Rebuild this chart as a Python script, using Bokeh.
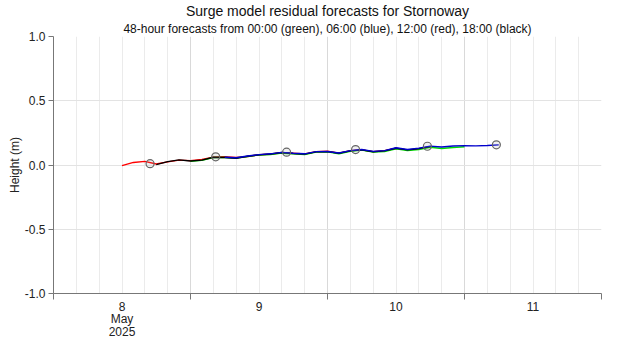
from datetime import datetime, timedelta
from bokeh.plotting import figure
from bokeh.models import FixedTicker, Title, Range1d, NumeralTickFormatter
from bokeh.embed import file_html
from bokeh.resources import INLINE

FONT = "Liberation Sans"
EPOCH = datetime(1970, 1, 1)
DAY0 = datetime(2025, 5, 8)


def ms(dt):
    return (dt - EPOCH).total_seconds() * 1000.0


# ---- data (2-hourly forecast values, metres) ----
red_start = datetime(2025, 5, 8, 12)     # 12:00 forecast
red_vals = [-0.005, 0.020, 0.028, 0.008, 0.024, 0.038, 0.034, 0.043, 0.060, 0.064,
            0.058, 0.066, 0.080, 0.084, 0.095, 0.092, 0.086, 0.104, 0.108, 0.092,
            0.112, 0.118, 0.104, 0.112, 0.130]

black_start = datetime(2025, 5, 8, 18)   # 18:00 forecast
black_vals = [0.003, 0.026, 0.040, 0.031, 0.038, 0.060, 0.058, 0.052, 0.068, 0.079,
              0.086, 0.097, 0.090, 0.085, 0.102, 0.104, 0.091, 0.110, 0.118, 0.103,
              0.110, 0.130, 0.118, 0.127, 0.143]

green_start = datetime(2025, 5, 9, 0)    # 00:00 forecast
green_vals = [0.028, 0.036, 0.058, 0.058, 0.054, 0.066, 0.078, 0.082, 0.092, 0.088,
              0.082, 0.100, 0.102, 0.088, 0.106, 0.116, 0.100, 0.104, 0.126, 0.112,
              0.120, 0.138, 0.128, 0.136, 0.142]

blue_start = datetime(2025, 5, 9, 6)     # 06:00 forecast
blue_vals = [0.060, 0.056, 0.070, 0.081, 0.087, 0.098, 0.091, 0.087, 0.104, 0.105,
             0.093, 0.112, 0.121, 0.106, 0.112, 0.134, 0.121, 0.131, 0.147, 0.140,
             0.148, 0.151, 0.149, 0.152, 0.157]

hw_times = [datetime(2025, 5, 8, 16, 55), datetime(2025, 5, 9, 4, 25),
            datetime(2025, 5, 9, 16, 50), datetime(2025, 5, 10, 4, 55),
            datetime(2025, 5, 10, 17, 30), datetime(2025, 5, 11, 5, 35)]
hw_vals = [0.010, 0.064, 0.100, 0.120, 0.146, 0.157]

day_labels = ["8\nMay\n2025", "9", "10", "11"]
y_ticks = [-1.0, -0.5, 0.0, 0.5, 1.0]


def series_times(start, n):
    return [start + timedelta(hours=2 * i) for i in range(n)]


p = figure(width=620, height=350, x_axis_type="datetime",
           output_backend="svg", toolbar_location=None,
           title="Surge model residual forecasts for Stornoway",
           min_border_left=53, min_border_right=19, min_border_bottom=57,
           min_border_top=36)
p.x_range = Range1d(ms(DAY0), ms(DAY0 + timedelta(days=4)))
p.y_range = Range1d(-1.0, 1.0)
p.outline_line_color = None

p.title.align = "center"
p.title.text_font = FONT
p.title.text_font_size = "14px"
p.title.text_font_style = "normal"
p.title.text_color = "#111111"
p.title.text_line_height = 1.0
p.title.standoff = 0
p.title.offset = 0
sub = Title(text="48-hour forecasts from 00:00 (green), 06:00 (blue), 12:00 (red), 18:00 (black)",
            align="center", text_font=FONT, text_font_size="12px",
            text_font_style="normal", text_color="#111111", standoff=2,
            text_line_height=1.0)
p.add_layout(sub, "above")

midnights = [ms(DAY0 + timedelta(days=d)) for d in range(5)]
noons = [ms(DAY0 + timedelta(days=d, hours=12)) for d in range(4)]
four_hourly = [ms(DAY0 + timedelta(hours=h)) for h in range(0, 97, 4) if h % 24 != 0]

# grid
p.xgrid.ticker = FixedTicker(ticks=four_hourly, minor_ticks=midnights)
p.xgrid.grid_line_color = "#ebebeb"
p.xgrid.minor_grid_line_color = "#d9d9d9"
p.ygrid.ticker = FixedTicker(ticks=y_ticks)
p.ygrid.grid_line_color = "#e3e3e3"

# x axis
xa = p.xaxis[0]
xa.ticker = FixedTicker(ticks=noons, minor_ticks=midnights)
xa.major_label_overrides = {t: lab for t, lab in zip(noons, day_labels)}
xa.major_tick_out = 0
xa.major_tick_in = 0
xa.minor_tick_out = 6
xa.minor_tick_in = 0
xa.minor_tick_line_color = "#777777"
xa.axis_line_color = "#777777"
xa.major_label_text_font = FONT
xa.major_label_text_font_size = "12px"
xa.major_label_text_color = "#222222"
xa.major_label_text_line_height = 0.9
xa.major_label_standoff = 0

# y axis
ya = p.yaxis[0]
ya.ticker = FixedTicker(ticks=y_ticks)
ya.formatter = NumeralTickFormatter(format="0.0")
ya.major_tick_out = 5
ya.major_tick_in = 0
ya.minor_tick_out = 0
ya.minor_tick_in = 0
ya.axis_line_color = "#777777"
ya.major_tick_line_color = "#777777"
ya.major_label_text_font = FONT
ya.major_label_text_font_size = "12px"
ya.major_label_text_color = "#222222"
ya.major_label_standoff = 3
ya.axis_label = "Height (m)"
ya.axis_label_text_font = FONT
ya.axis_label_text_font_size = "12px"
ya.axis_label_text_font_style = "normal"
ya.axis_label_text_color = "#222222"
ya.axis_label_standoff = 0

# lines
p.line(series_times(red_start, len(red_vals)), red_vals, line_color="#ff0000", line_width=1.4)
p.line(series_times(green_start, len(green_vals)), green_vals, line_color="#00dd00", line_width=1.4)
p.line(series_times(black_start, len(black_vals)), black_vals, line_color="#000000", line_width=1.4)
p.line(series_times(blue_start, len(blue_vals)), blue_vals, line_color="#0000cc", line_width=1.4)

p.scatter(hw_times, hw_vals, marker="circle", size=8, line_color="#666666",
          fill_color="#999999", fill_alpha=0.15, line_width=1.2)

open("out.html", "w").write(file_html(p, INLINE))
